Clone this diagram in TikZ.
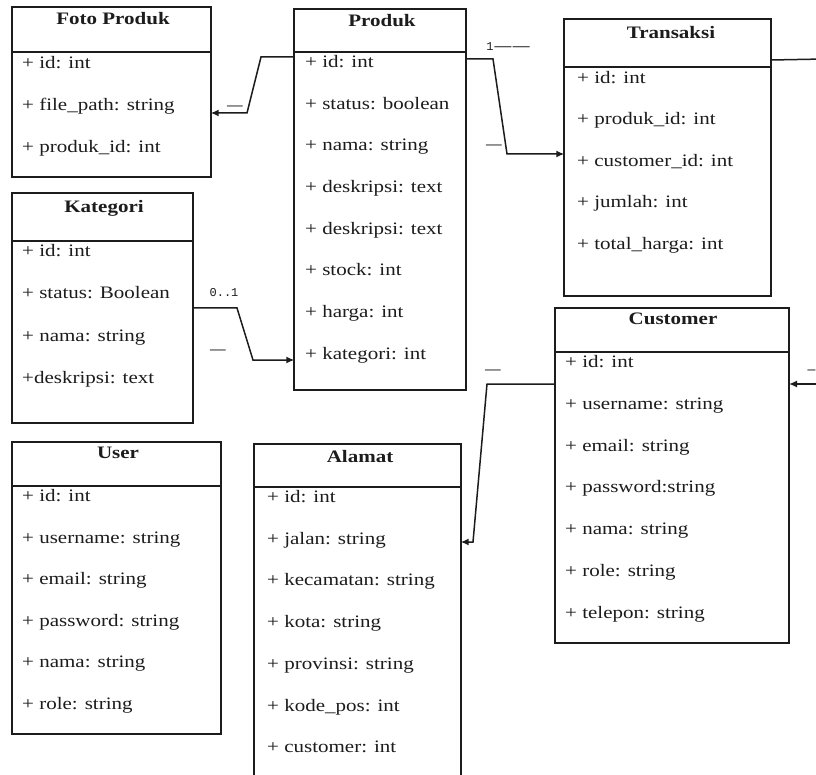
\documentclass[tikz,border=0pt]{standalone}
\usepackage{fontspec}
\setmainfont{Liberation Serif}[FakeStretch=1.2]
\newfontfamily\lblfont{Liberation Mono}
\usetikzlibrary{arrows.meta}
\definecolor{ink}{HTML}{1C1C1C}
\begin{document}
\begin{tikzpicture}[x=1pt,y=-1pt,
  umlbox/.style={draw=ink, line width=1.7pt, inner sep=0pt, outer sep=0pt, anchor=north west},
  divline/.style={draw=ink, line width=1.7pt},
  title/.style={anchor=base, inner sep=0pt, font=\fontsize{17.5}{20}\selectfont\bfseries, text=ink},
  item/.style={anchor=base west, inner sep=0pt, font=\fontsize{17.5}{20}\selectfont, text=ink},
  conn/.style={draw=ink, line width=1.5pt, -{Latex[length=8pt,width=7pt]}},
  plainconn/.style={draw=ink, line width=1.5pt},
  dashlbl/.style={inner sep=0pt, font=\fontsize{13}{13}\selectfont\bfseries, text=ink},
  multlbl/.style={inner sep=0pt, font=\lblfont\fontsize{12}{12}\selectfont, text=ink}
]
\fill[white] (0,0) rectangle (816,775);
\useasboundingbox (0,0) rectangle (816,775);

% ---------- boxes ----------
\node[umlbox, minimum width=198.7pt, minimum height=169.7pt] (foto) at (12,7) {};
\draw[divline] ([yshift=-45.3pt]foto.north west) -- ([yshift=-45.3pt]foto.north east);
\node[title] (foto-t) at (113,25) {Foto Produk};
\foreach \t [count=\i from 0] in {{+ id: int},{+ file\_path: string},{+ produk\_id: int}}
  \node[item] (foto-i\i) at (22,68.5+42*\i) {\t};

\node[umlbox, minimum width=171.7pt, minimum height=380.7pt] (produk) at (294.3,9.3) {};
\draw[divline] ([yshift=-43pt]produk.north west) -- ([yshift=-43pt]produk.north east);
\node[title] (produk-t) at (382,26.5) {Produk};
\foreach \t [count=\i from 0] in {{+ id: int},{+ status: boolean},{+ nama: string},{+ deskripsi: text},{+ deskripsi: text},{+ stock: int},{+ harga: int},{+ kategori: int}}
  \node[item] (produk-i\i) at (305,67.5+41.7*\i) {\t};

\node[umlbox, minimum width=206.7pt, minimum height=277pt] (transaksi) at (564.3,19) {};
\draw[divline] ([yshift=-47.7pt]transaksi.north west) -- ([yshift=-47.7pt]transaksi.north east);
\node[title] (transaksi-t) at (671,38.3) {Transaksi};
\foreach \t [count=\i from 0] in {{+ id: int},{+ produk\_id: int},{+ customer\_id: int},{+ jumlah: int},{+ total\_harga: int}}
  \node[item] (transaksi-i\i) at (577,83.5+41.5*\i) {\t};

\node[umlbox, minimum width=180.7pt, minimum height=230pt] (kategori) at (12,193.3) {};
\draw[divline] ([yshift=-47.7pt]kategori.north west) -- ([yshift=-47.7pt]kategori.north east);
\node[title] (kategori-t) at (104,213) {Kategori};
\foreach \t [count=\i from 0] in {{+ id: int},{+ status: Boolean},{+ nama: string},{+deskripsi: text}}
  \node[item] (kategori-i\i) at (22,256.5+42.3*\i) {\t};

\node[umlbox, minimum width=208.7pt, minimum height=291.7pt] (user) at (12,442.3) {};
\draw[divline] ([yshift=-43.7pt]user.north west) -- ([yshift=-43.7pt]user.north east);
\node[title] (user-t) at (118,458) {User};
\foreach \t [count=\i from 0] in {{+ id: int},{+ username: string},{+ email: string},{+ password: string},{+ nama: string},{+ role: string}}
  \node[item] (user-i\i) at (22,501.5+41.6*\i) {\t};

\node[umlbox, minimum width=206.4pt, minimum height=360pt] (alamat) at (254.3,444.3) {};
\draw[divline] ([yshift=-42.7pt]alamat.north west) -- ([yshift=-42.7pt]alamat.north east);
\node[title] (alamat-t) at (360,462) {Alamat};
\foreach \t [count=\i from 0] in {{+ id: int},{+ jalan: string},{+ kecamatan: string},{+ kota: string},{+ provinsi: string},{+ kode\_pos: int},{+ customer: int}}
  \node[item] (alamat-i\i) at (267,502.5+41.7*\i) {\t};

\node[umlbox, minimum width=234pt, minimum height=335pt] (customer) at (555,308.3) {};
\draw[divline] ([yshift=-43.4pt]customer.north west) -- ([yshift=-43.4pt]customer.north east);
\node[title] (customer-t) at (673,325) {Customer};
\foreach \t [count=\i from 0] in {{+ id: int},{+ username: string},{+ email: string},{+ password:string},{+ nama: string},{+ role: string},{+ telepon: string}}
  \node[item] (customer-i\i) at (565,367.5+41.8*\i) {\t};

% ---------- connectors ----------
\coordinate (c1a) at (261,57);
\coordinate (c1b) at (247,113);
\draw[conn] (c1a -| produk.west) -- (c1a) -- (c1b) -- (c1b -| foto.east);
\node[dashlbl] (l1) at (235,108) {—};

\coordinate (c2a) at (493,59);
\coordinate (c2b) at (507,154);
\draw[conn] (c2a -| produk.east) -- (c2a) -- (c2b) -- (c2b -| transaksi.west);
\node[inner sep=0pt, text=ink] (l2a) at (508,47) {{\lblfont\fontsize{12}{12}\selectfont 1}\kern1pt{\bfseries\fontsize{14}{14}\selectfont —\kern1.5pt—}};
\node[dashlbl] (l2b) at (494,147) {—};

\coordinate (c3a) at (237,308);
\coordinate (c3b) at (253,360);
\draw[conn] (c3a -| kategori.east) -- (c3a) -- (c3b) -- (c3b -| produk.west);
\node[multlbl] (l3a) at (224,293) {0..1};
\node[dashlbl] (l3b) at (218,352) {—};

\coordinate (c4a) at (487,384);
\coordinate (c4b) at (473,542);
\draw[conn] (c4a -| customer.west) -- (c4a) -- (c4b) -- (c4b -| alamat.east);
\node[dashlbl] (l4) at (493,372) {—};

\coordinate (edgeR) at (824,384);
\draw[conn] (edgeR) -- (edgeR -| customer.east);
\node[dashlbl, anchor=east] (l5) at (815.5,372) {–};

\coordinate (c6) at (780,60);
\coordinate (edgeT) at (824,59);
\draw[plainconn] (c6 -| transaksi.east) -- (edgeT);
\end{tikzpicture}
\end{document}
